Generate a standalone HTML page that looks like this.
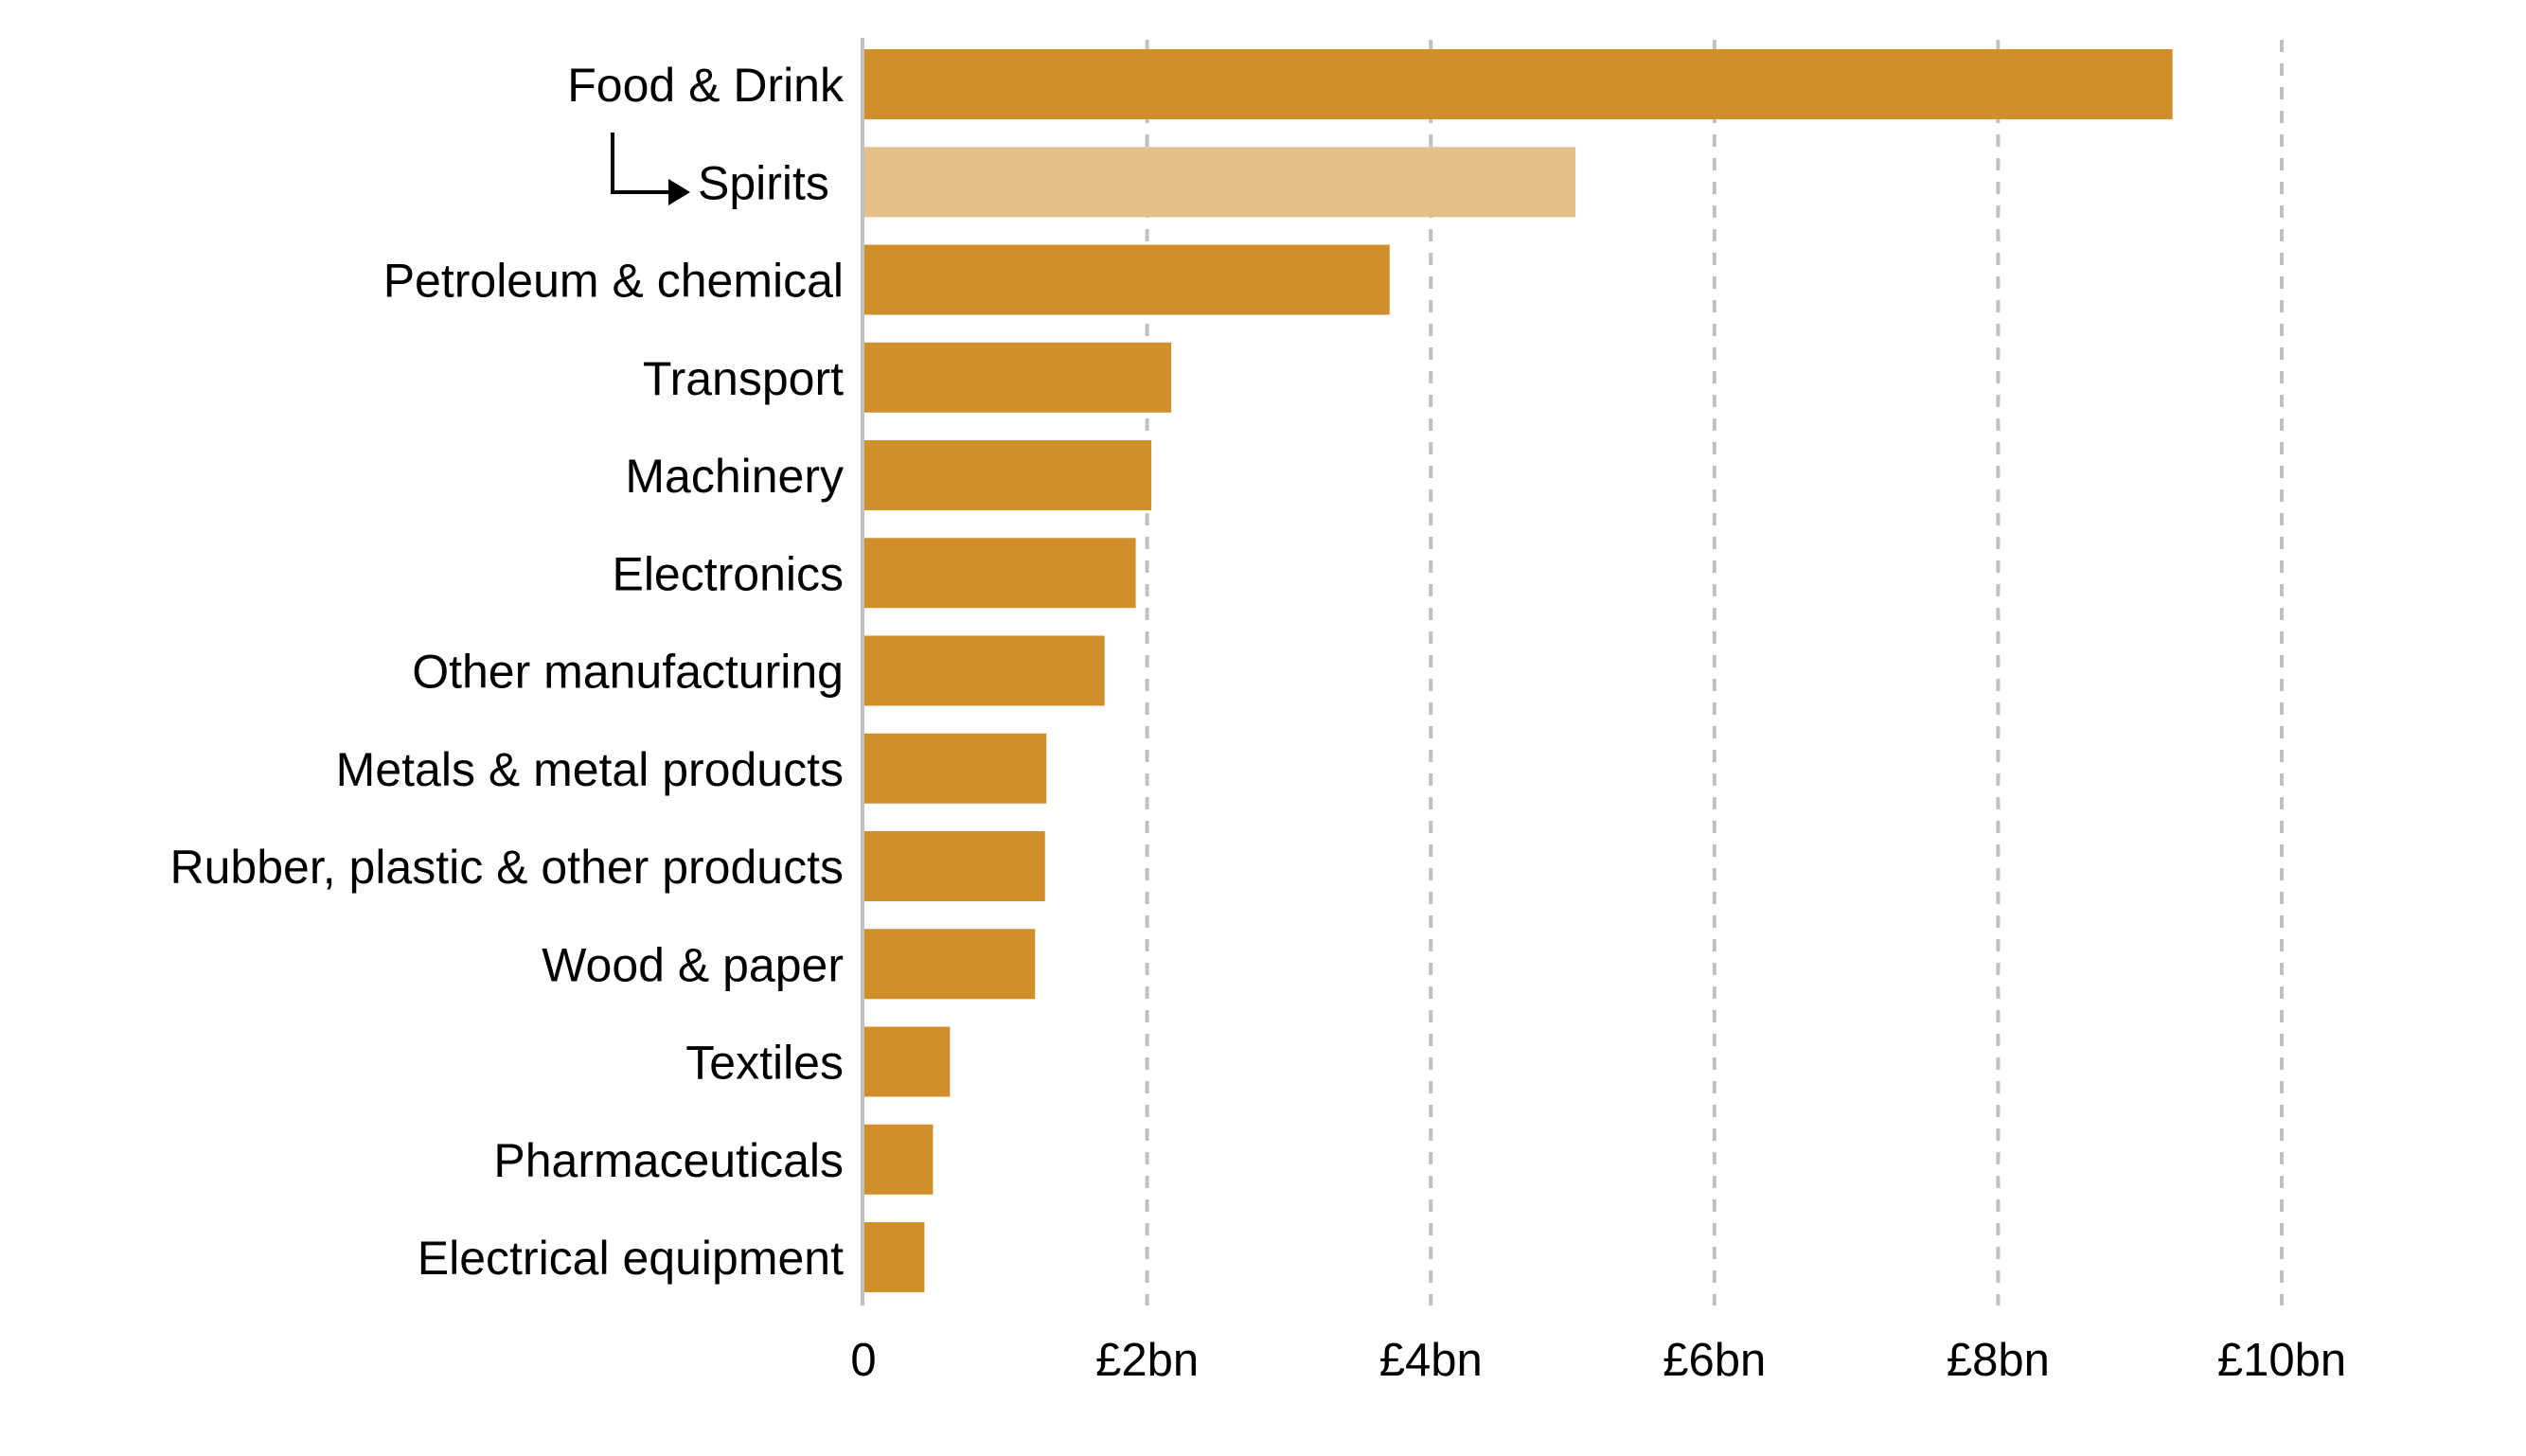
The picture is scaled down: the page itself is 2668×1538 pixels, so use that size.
<!DOCTYPE html>
<html><head><meta charset="utf-8"><style>
html,body{margin:0;padding:0;background:#fff;}
svg{display:block;font-family:"Liberation Sans",sans-serif;}
</style></head><body>
<svg id="chart" width="2668" height="1538" viewBox="0 0 2668 1538" xmlns="http://www.w3.org/2000/svg">
<g id="grid"></g><g id="bars"></g><g id="labels"></g><g id="ticks"></g>
<g>
<polyline points="647,140 647,203 712,203" fill="none" stroke="#000" stroke-width="4"/>
<polygon points="706,189 729,203 706,217" fill="#000"/>
</g>
<line x1="911" y1="40" x2="911" y2="1379" stroke="#c0c0c0" stroke-width="4"/>
</svg>
<script>
const categories=["Food  & Drink","Spirits","Petroleum & chemical","Transport","Machinery","Electronics","Other manufacturing","Metals & metal products","Rubber, plastic & other products","Wood & paper","Textiles","Pharmaceuticals","Electrical equipment"];
const values=[9.23,5.02,3.71,2.17,2.03,1.92,1.70,1.29,1.28,1.21,0.61,0.49,0.43];
const tickValues=[0,2,4,6,8,10];
const tickLabels=["0","£2bn","£4bn","£6bn","£8bn","£10bn"];
const NS="http://www.w3.org/2000/svg";
const x0=912,pxPerBn=149.8,top0=52,pitch=103.25,barH=74;
const xs=v=>x0+v*pxPerBn;
const yb=i=>top0+i*pitch;
function mk(t,a){const e=document.createElementNS(NS,t);for(const k in a)e.setAttribute(k,a[k]);return e;}
const grid=document.getElementById('grid'),bars=document.getElementById('bars'),labels=document.getElementById('labels'),ticks=document.getElementById('ticks');
tickValues.forEach((v,i)=>{
 if(v>0){const l=mk('line',{x1:xs(v),x2:xs(v),y1:42,y2:1379,stroke:'#c0c0c0','stroke-width':4,'stroke-dasharray':'13 12'});
 
 
 grid.appendChild(l);}
 const t=mk('text',{x:xs(v),y:1453,'text-anchor':'middle','font-size':49,fill:'#000'});
 t.textContent=tickLabels[i];
 
 
 ticks.appendChild(t);
});
categories.forEach((c,i)=>{
 const r=mk('rect',{x:x0,y:yb(i),width:xs(values[i])-x0,height:barH,fill:i===1?'#E4C08B':'#D08F2B'});
 
 
 bars.appendChild(r);
 const t=mk('text',{x:i===1?737:891,y:yb(i)+barH/2+18,'text-anchor':i===1?'start':'end','font-size':50,fill:'#000'});
 t.setAttribute('xml:space','preserve');
 t.textContent=c;
 
 
 labels.appendChild(t);
});
</script>
</body></html>
